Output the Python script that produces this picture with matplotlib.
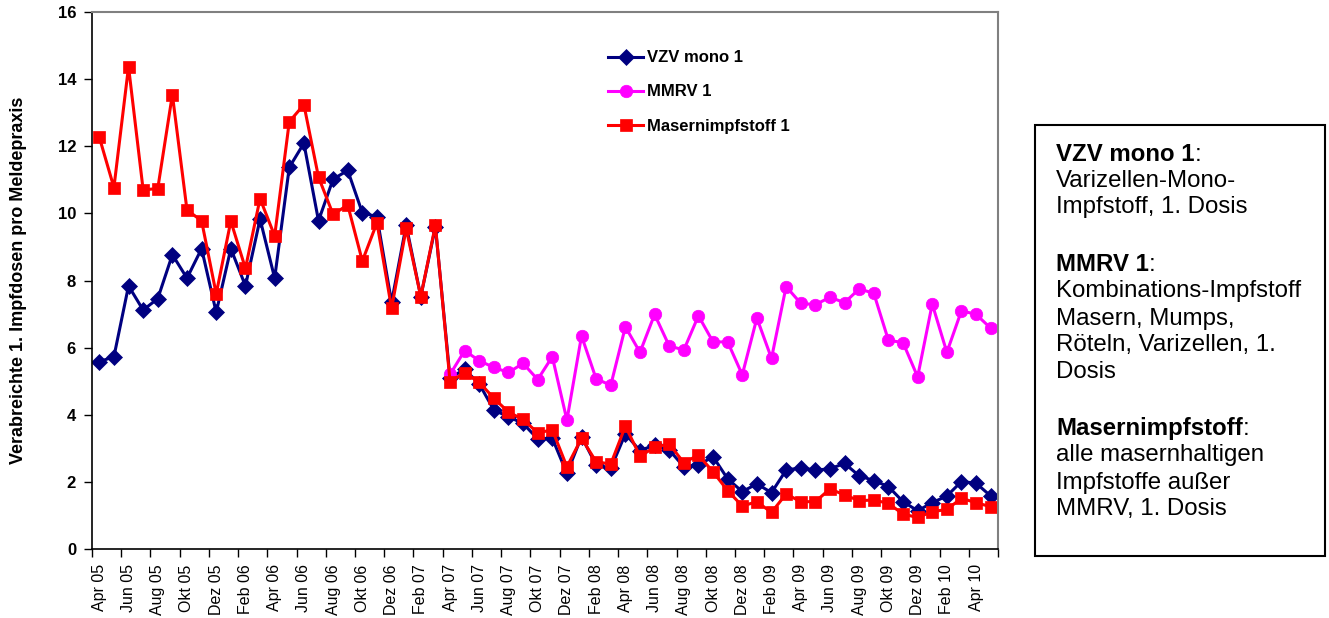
import numpy as np
import matplotlib.pyplot as plt
from matplotlib.patches import Rectangle

plt.rcParams['font.family'] = ['Liberation Sans', 'DejaVu Sans']

# Monatswerte Apr 05 - Mai 10 (62 Monate)
tick_labels = ['Apr 05', 'Jun 05', 'Aug 05', 'Okt 05', 'Dez 05', 'Feb 06',
               'Apr 06', 'Jun 06', 'Aug 06', 'Okt 06', 'Dez 06', 'Feb 07',
               'Apr 07', 'Jun 07', 'Aug 07', 'Okt 07', 'Dez 07', 'Feb 08',
               'Apr 08', 'Jun 08', 'Aug 08', 'Okt 08', 'Dez 08', 'Feb 09',
               'Apr 09', 'Jun 09', 'Aug 09', 'Okt 09', 'Dez 09', 'Feb 10',
               'Apr 10']

vzv_mono = [5.58, 5.73, 7.84, 7.12, 7.46, 8.77, 8.07, 8.95, 7.05, 8.95,
            7.84, 9.83, 8.07, 11.37, 12.09, 9.78, 11.02, 11.28, 10.02, 9.90,
            7.35, 9.65, 7.52, 9.60, 5.10, 5.35, 4.92, 4.14, 3.94, 3.74,
            3.28, 3.30, 2.25, 3.35, 2.50, 2.40, 3.43, 2.93, 3.10, 2.95,
            2.45, 2.50, 2.75, 2.09, 1.71, 1.94, 1.68, 2.35, 2.42, 2.35,
            2.39, 2.55, 2.18, 2.04, 1.86, 1.41, 1.14, 1.38, 1.58, 2.01,
            1.96, 1.58]

# MMRV erst ab Apr 07
mmrv = [None] * 24 + [5.20, 5.91, 5.61, 5.41, 5.26, 5.53, 5.05, 5.73, 3.84, 6.35,
                      5.07, 4.88, 6.62, 5.86, 6.99, 6.05, 5.93, 6.95, 6.17, 6.17,
                      5.19, 6.88, 5.68, 7.82, 7.32, 7.28, 7.50, 7.34, 7.75, 7.62,
                      6.22, 6.15, 5.13, 7.30, 5.86, 7.10, 6.99, 6.58]

masern = [12.27, 10.77, 14.37, 10.70, 10.74, 13.54, 10.10, 9.78, 7.60, 9.77,
          8.36, 10.44, 9.33, 12.73, 13.24, 11.08, 9.97, 10.25, 8.58, 9.72,
          7.17, 9.55, 7.52, 9.65, 4.99, 5.25, 4.97, 4.49, 4.08, 3.86,
          3.46, 3.55, 2.45, 3.30, 2.60, 2.53, 3.66, 2.77, 3.03, 3.13,
          2.57, 2.80, 2.30, 1.74, 1.28, 1.41, 1.09, 1.64, 1.41, 1.41,
          1.79, 1.61, 1.44, 1.46, 1.36, 1.04, 0.94, 1.11, 1.18, 1.51,
          1.38, 1.26]

W, H = 1329, 618
fig = plt.figure(figsize=(W / 100, H / 100), dpi=100)
ax = fig.add_axes([92 / W, 1 - 549 / H, 906 / W, 537 / H])

x = np.arange(len(masern))
mmrv_arr = np.array([np.nan if v is None else v for v in mmrv])

ax.plot(x, vzv_mono, color='#000080', lw=2.2, marker='D', ms=7.8, mew=0.5, label='VZV mono 1')
ax.plot(x, mmrv_arr, color='#FF00FF', lw=2.2, marker='o', ms=9, mew=0.5, label='MMRV 1')
ax.plot(x, masern, color='#FF0000', lw=2.2, marker='s', ms=9, mew=0.5, label='Masernimpfstoff 1')

ax.set_xlim(-0.5, len(x) - 0.5)
ax.set_ylim(0, 16)
ax.set_yticks(np.arange(0, 17, 2))
ax.tick_params(axis='y', length=6, width=1, pad=5.5, labelsize=12)
for t in ax.get_yticklabels():
    t.set_fontweight('bold')

# Striche zwischen den Kategorien, Beschriftung in der Mitte
ax.set_xticks(np.arange(-0.5, len(x), 2))
ax.set_xticklabels([])
ax.tick_params(axis='x', which='major', length=6, width=1)
ax.set_xticks(x[::2], tick_labels, minor=True)
ax.tick_params(axis='x', which='minor', length=0, pad=11, labelsize=11.5, labelrotation=90)

for s in ['top', 'right']:
    ax.spines[s].set_color('#808080')
    ax.spines[s].set_linewidth(1.5)
for s in ['left', 'bottom']:
    ax.spines[s].set_linewidth(1.2)

ax.set_ylabel('Verabreichte 1. Impfdosen pro Meldepraxis', fontsize=13, fontweight='bold')
ax.yaxis.set_label_coords((18 - 92) / 906, 0.5)
ax.yaxis.label.set_va('center')

fig.legend(loc='upper left', bbox_to_anchor=(600 / W, 1 - 42 / H), frameon=False,
           prop={'weight': 'bold', 'size': 12}, handlelength=2.1, handletextpad=0.2,
           labelspacing=1.15, borderpad=0)

# Erklaerungskasten rechts
fig.patches.append(Rectangle((1035 / W, 1 - 556 / H), 290 / W, 431 / H,
                             transform=fig.transFigure, fill=False, ec='black', lw=1.5))

box_lines = [
    (152, 'VZV mono 1', True),
    (179, 'Varizellen-Mono-', False),
    (205, 'Impfstoff, 1. Dosis', False),
    (262, 'MMRV 1', True),
    (289, 'Kombinations-Impfstoff', False),
    (316, 'Masern, Mumps,', False),
    (343, 'Röteln, Varizellen, 1.', False),
    (370, 'Dosis', False),
    (426, 'Masernimpfstoff', True),
    (453, 'alle masernhaltigen', False),
    (480, 'Impfstoffe außer', False),
    (507, 'MMRV, 1. Dosis', False),
]
for py, txt, bold in box_lines:
    t = fig.text(1056 / W, 1 - py / H, txt, fontsize=17.3, va='center_baseline',
                 fontweight='bold' if bold else 'normal')
    if bold:
        ax.annotate(':', xy=(1, 0), xycoords=t, fontsize=17.3, va='bottom', ha='left',
                    annotation_clip=False)

fig.savefig('out.png', dpi=100)
